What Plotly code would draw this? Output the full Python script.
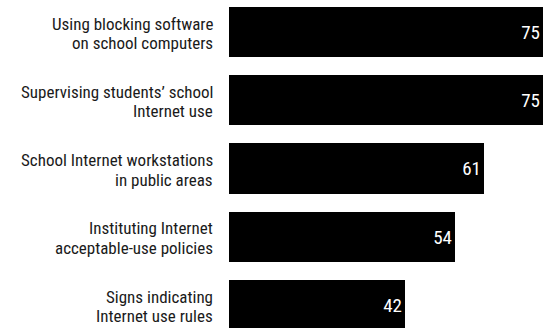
import plotly.graph_objects as go

# Percentage of schools using each Internet-safety measure
categories = [
    "Using blocking software<br>on school computers",
    "Supervising students\u2019 school<br>Internet use",
    "School Internet workstations<br>in public areas",
    "Instituting Internet<br>acceptable-use policies",
    "Signs indicating<br>Internet use rules",
]
values = [75, 75, 61, 54, 42]

LABEL_FONT = "Roboto Condensed, Liberation Sans, Arial, sans-serif"

fig = go.Figure(
    go.Bar(
        x=values,
        y=categories,
        orientation="h",
        marker=dict(color="#000000", line=dict(width=0)),
        width=0.733,
        text=[str(v) for v in values],
        textposition="inside",
        insidetextanchor="end",
        textangle=0,
        textfont=dict(family=LABEL_FONT, size=19, color="#ffffff"),
        cliponaxis=False,
        hoverinfo="skip",
    )
)

# Category names, two lines each, right-aligned beside the bars
annotations = []
for cat in categories:
    lines = cat.split("<br>")
    for k, line in enumerate(lines):
        annotations.append(
            dict(
                x=0,
                y=cat,
                xref="x",
                yref="y",
                text=line,
                showarrow=False,
                xanchor="right",
                yanchor="middle",
                xshift=-14,
                yshift=8.5 - 19.5 * k,
                font=dict(family=LABEL_FONT, size=17, color="#1a1a1a"),
            )
        )

fig.update_layout(
    width=544,
    height=328,
    margin=dict(l=229, r=0, t=0, b=0),
    paper_bgcolor="#ffffff",
    plot_bgcolor="#ffffff",
    showlegend=False,
    bargap=0,
    annotations=annotations,
    xaxis=dict(
        range=[0, 75.3],
        visible=False,
        showgrid=False,
        zeroline=False,
        fixedrange=True,
    ),
    yaxis=dict(
        categoryorder="array",
        categoryarray=categories,
        range=[4.337, -0.469],
        showticklabels=False,
        showgrid=False,
        zeroline=False,
        showline=False,
        ticks="",
        fixedrange=True,
    ),
)

fig.write_html("out.html", config={"displayModeBar": False})
